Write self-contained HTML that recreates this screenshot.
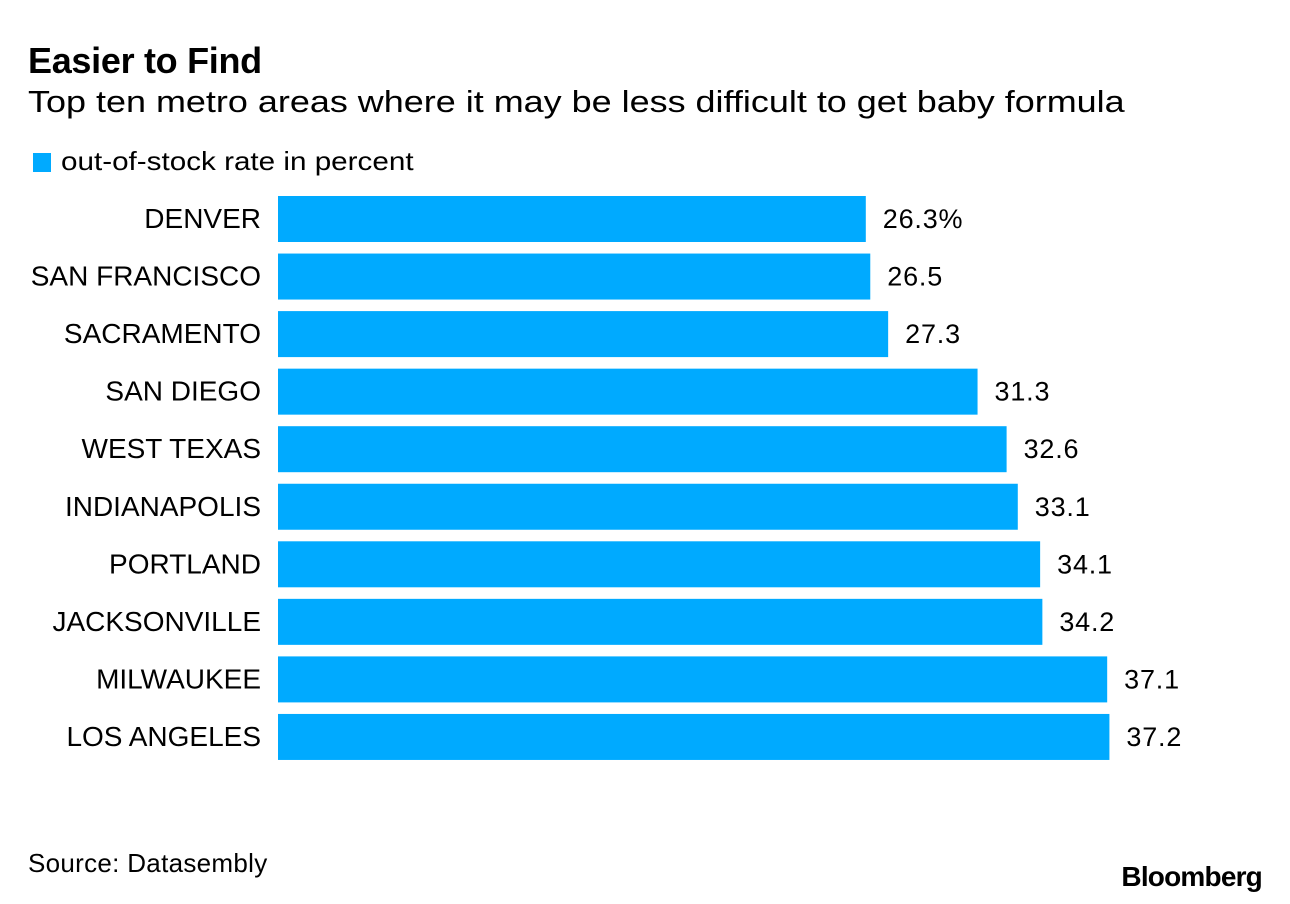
<!DOCTYPE html>
<html><head><meta charset="utf-8"><style>
body{margin:0;width:1290px;height:904px;background:#fff;font-family:"Liberation Sans",Arial,sans-serif;color:#000;position:relative;overflow:hidden}
.t{position:absolute;white-space:nowrap}
</style></head><body>
<div class="t" style="left:28px;top:40px;font-size:36px;font-weight:bold;letter-spacing:-0.3px">Easier to Find</div>
<div class="t" style="left:28px;top:84px;font-size:31px;transform:scaleX(1.16);transform-origin:left top">Top ten metro areas where it may be less difficult to get baby formula</div>
<div class="t" style="left:33px;top:153px;width:18px;height:19px;background:#00aaff"></div>
<div class="t" style="left:61px;top:146px;font-size:26px;transform:scaleX(1.14);transform-origin:left top">out-of-stock rate in percent</div>
<svg id="chart" width="1290" height="904" style="position:absolute;left:0;top:0"></svg>
<div class="t" style="left:28px;top:848px;font-size:26px;letter-spacing:0.3px">Source: Datasembly</div>
<div class="t" style="right:28px;top:861px;font-size:28px;font-weight:bold;letter-spacing:-0.8px">Bloomberg</div>
<script>
const categories=["DENVER","SAN FRANCISCO","SACRAMENTO","SAN DIEGO","WEST TEXAS","INDIANAPOLIS","PORTLAND","JACKSONVILLE","MILWAUKEE","LOS ANGELES"];
const values=[26.3,26.5,27.3,31.3,32.6,33.1,34.1,34.2,37.1,37.2];
const valueLabels=["26.3%","26.5","27.3","31.3","32.6","33.1","34.1","34.2","37.1","37.2"];
const svg=document.getElementById('chart');
const NS="http://www.w3.org/2000/svg";
const x=v=>278+v*22.35;
const y=i=>196+i*57.55;
categories.forEach((c,i)=>{
  const r=document.createElementNS(NS,'rect');
  r.setAttribute('x',278);r.setAttribute('y',y(i));
  r.setAttribute('width',x(values[i])-278);r.setAttribute('height',46);
  r.setAttribute('fill','#00aaff');
  
  
  svg.appendChild(r);
  const l=document.createElementNS(NS,'text');
  l.setAttribute('x',261);l.setAttribute('y',y(i)+32);
  l.setAttribute('text-anchor','end');l.setAttribute('font-size','28');
  l.textContent=c;
  
  
  svg.appendChild(l);
  const v=document.createElementNS(NS,'text');
  v.setAttribute('x',x(values[i])+17);v.setAttribute('y',y(i)+32);
  v.setAttribute('font-size','27');v.setAttribute('letter-spacing','0.8');
  v.textContent=valueLabels[i];
  
  
  svg.appendChild(v);
});
</script>
</body></html>
